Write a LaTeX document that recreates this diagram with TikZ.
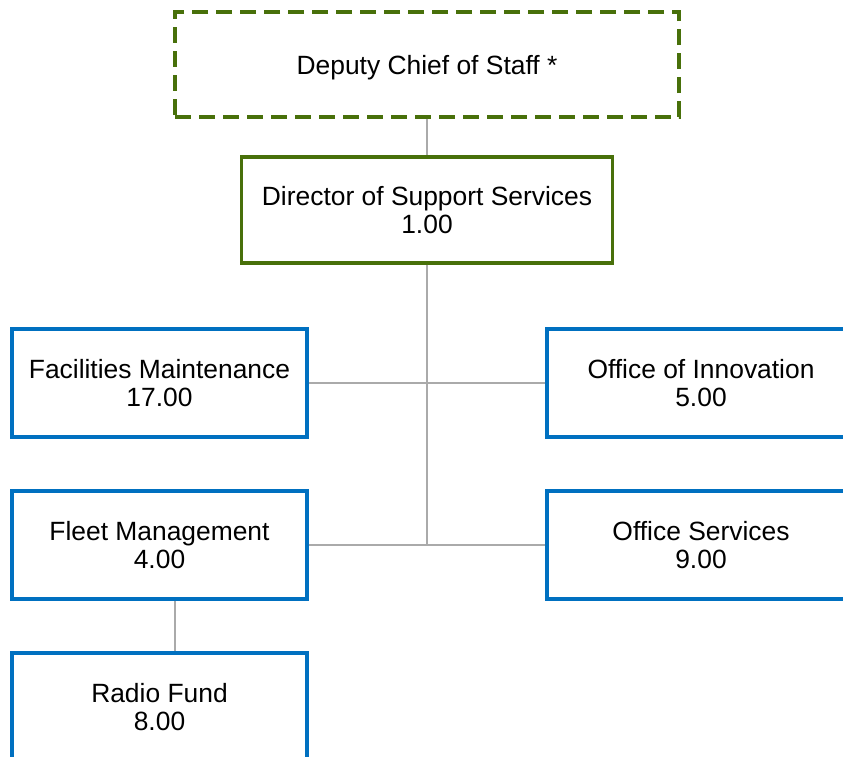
\documentclass[tikz,border=0pt]{standalone}
\usepackage{fontspec}
\setmainfont{Liberation Sans}
\usepackage{tikz}
\usepackage{xcolor}
\definecolor{orggreen}{RGB}{72,112,10}
\definecolor{orgblue}{RGB}{0,112,192}
\definecolor{orggray}{RGB}{170,170,170}

\begin{document}
\begin{tikzpicture}[x=0.5pt, y=-0.5pt,
		unit/.style={draw=orgblue, line width=1.8pt, fill=white, align=center,
			font=\fontsize{13.2}{13.6}\selectfont, inner sep=0pt, text depth=-1pt,
			minimum width=147.5pt, minimum height=54pt},
		head/.style={unit, draw=orggreen, line width=1.6pt},
		link/.style={draw=orggray, line width=1pt}]
			\useasboundingbox (0, 0) rectangle (843, 757);
			\clip (0, 0) rectangle (843, 757);
			\node[head, dash pattern=on 8pt off 4pt, minimum width=252pt, minimum height=52.5pt] (dcos) at (427, 64.5) {Deputy Chief of Staff *};
			\node[head, minimum width=185.5pt, minimum height=53pt] (dss) at (427, 210) {Director of Support Services\\1.00};
			\node[unit] (fac) at (159.5, 383) {Facilities Maintenance\\17.00};
			\node[unit, minimum width=154pt] (inno) at (701, 383) {Office of Innovation\\5.00};
			\node[unit] (fleet) at (159.5, 545) {Fleet Management\\4.00};
			\node[unit, minimum width=154pt] (offs) at (701, 545) {Office Services\\9.00};
			\node[unit] (radio) at (159.5, 707) {Radio Fund\\8.00};
			\coordinate (radiolink) at (175, 600);
			\draw[link] (dcos.south) -- (dss.north);
			\draw[link] (dss.south) -- (dss.south |- fleet.east);
			\draw[link] (fac.east) -- (inno.west);
			\draw[link] (fleet.east) -- (offs.west);
			\draw[link] (fleet.south -| radiolink) -- (radio.north -| radiolink);
		\end{tikzpicture}
\end{document}
